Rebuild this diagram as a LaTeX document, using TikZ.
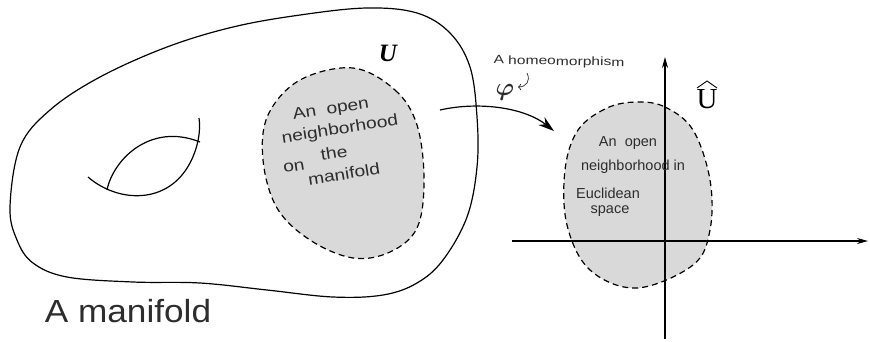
\documentclass[tikz,border=0pt]{standalone}
\usepackage{fontspec}
\setmainfont{Liberation Sans}
\newfontfamily\serifU{Liberation Serif}
\usetikzlibrary{arrows.meta}
\definecolor{fillgray}{RGB}{217,217,217}
\definecolor{ink}{RGB}{45,45,45}
\begin{document}
\begin{tikzpicture}[x=1pt,y=-1pt,
  outline/.style={line width=1.2pt, draw=black},
  region/.style={fill=fillgray, draw=black, line width=1.2pt, dash pattern=on 6pt off 4pt},
  hand/.style={text=ink, inner sep=0pt, align=left},
  lefttext/.style={hand, rotate=9, xscale=1.2, font=\fontsize{16}{16}\selectfont},
  righttext/.style={hand, font=\fontsize{14.5}{15}\selectfont},
  axis/.style={line width=1.1pt, -{Stealth[length=11pt,width=6pt]}},
  maparrow/.style={line width=1.2pt, -{Stealth[length=16pt,width=10pt]}}]
\useasboundingbox (0,0) rectangle (870,341);

% manifold outline
\draw[outline] plot[smooth cycle, tension=0.6] coordinates {
 (10,207) (20,147) (50,110) (100,77) (167,47) (233,27) (300,15) (367,8) (417,13)
 (450,33) (470,67) (477,117) (477,167) (467,217) (443,260) (417,283) (383,295)
 (333,297) (267,290) (200,283) (133,282) (67,277) (33,263) (17,240)};

% hole
\coordinate (h1) at (88,177);
\coordinate (h2) at (199,118);
\coordinate (h3) at (107,190);
\coordinate (h4) at (200,142);
\draw[outline] (h1) .. controls (118,203) and (168,205) .. (190,163) .. controls (198,148) and (201,130) .. (h2);
\draw[outline] (h3) .. controls (113,160) and (150,122) .. (h4);

% neighbourhood on manifold
\draw[region] plot[smooth cycle, tension=0.6] coordinates {
 (353,68) (395,90) (417,125) (424,180) (417,228) (390,252) (353,258) (310,240)
 (277,208) (263,160) (268,115) (300,80)};

\node[lefttext] (t1) at (331,110) {An\ \ open};
\node[lefttext] (t2) at (340,130) {neighborhood};
\node[lefttext] (t3) at (294,167) {on};
\node[lefttext] (t4) at (334,153) {the};
\node[lefttext] (t5) at (344,174) {manifold};

\node[font=\serifU\bfseries\itshape\fontsize{25}{25}\selectfont, inner sep=0pt] (U) at (388,53) {U};

% right neighbourhood
\draw[region] plot[smooth cycle, tension=0.6] coordinates {
 (637,102) (665,107) (693,130) (710,180) (710,230) (693,265) (637,288) (590,270)
 (567,225) (565,170) (578,130) (607,108)};

% axes
\coordinate (xs) at (512,241);
\coordinate (xe) at (868,241);
\coordinate (ys) at (665,339);
\coordinate (ye) at (665,57);
\draw[axis] (xs) -- (xe);
\draw[axis] (ys) -- (ye);

\node[righttext] (r1) at (628,143) {An\ \ open};
\node[righttext] (r2) at (633,167) {neighborhood\ in};
\node[righttext] (r3) at (608,193) {Euclidean};
\node[righttext] (r4) at (610,211) {space};

% U hat
\node[font=\serifU\fontsize{29}{29}\selectfont, inner sep=0pt] (Uh) at (707,99) {U};
\coordinate (hatl) at (697,88);
\coordinate (hatt) at (707,81);
\coordinate (hatr) at (717,88);
\draw[line width=0.9pt] (hatl) -- (hatt) -- (hatr);

% homeomorphism arrow
\coordinate (ms) at (440,110);
\coordinate (me) at (554,131);
\draw[maparrow] (ms) .. controls (480,101) and (525,108) .. (me);

\node[font=\fontsize{26}{26}\selectfont\boldmath, text=ink, inner sep=0pt] (phi) at (505,92) {$\varphi$};
\node[hand, rotate=-1, xscale=1.3, font=\fontsize{12}{12}\selectfont] (hom) at (559,62) {A homeomorphism};
\coordinate (ha) at (527,73);
\coordinate (hb) at (518,87);
\draw[line width=0.7pt, ink, -{To[length=3pt]}] (ha) .. controls (531,81) and (526,87) .. (hb);

\node[hand, font=\fontsize{32}{32}\selectfont, xscale=1.1] (man) at (128,311) {A manifold};
\end{tikzpicture}
\end{document}
